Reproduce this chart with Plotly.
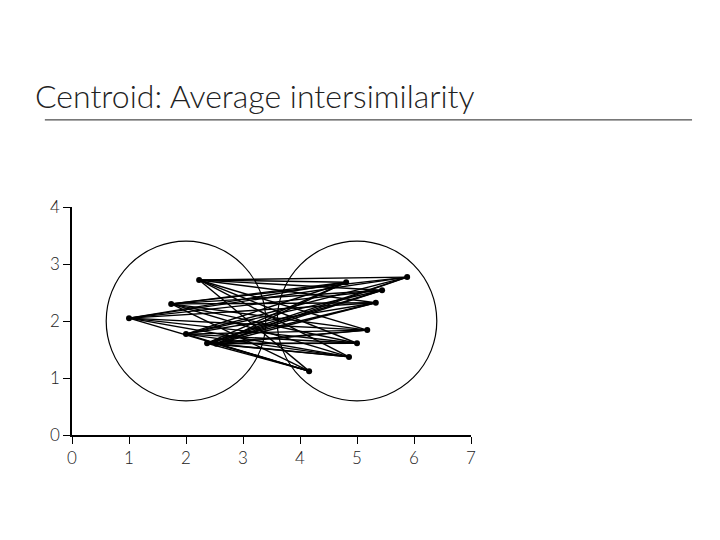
import plotly.graph_objects as go

# cluster points
left_x = [1.0, 2.23, 1.74, 2.0, 2.37, 2.53]
left_y = [2.05, 2.72, 2.30, 1.77, 1.61, 1.60]
right_x = [5.88, 4.81, 5.44, 5.33, 5.18, 5.0, 4.86, 4.16]
right_y = [2.77, 2.68, 2.54, 2.32, 1.84, 1.61, 1.37, 1.12]
centers_x = [2, 5]
centers_y = [2, 2]
radius = 1.4

# every left-right pair is joined
lx, ly = [], []
for ax, ay in zip(left_x, left_y):
    for bx, by in zip(right_x, right_y):
        lx += [ax, bx, None]
        ly += [ay, by, None]

fig = go.Figure()
fig.add_trace(go.Scatter(x=lx, y=ly, mode='lines', line=dict(color='black', width=1.4), hoverinfo='skip'))
fig.add_trace(go.Scatter(x=left_x + right_x, y=left_y + right_y, mode='markers',
                         marker=dict(color='black', size=6)))
for cx, cy in zip(centers_x, centers_y):
    fig.add_shape(type='circle', xref='x', yref='y', x0=cx - radius, x1=cx + radius,
                  y0=cy - radius, y1=cy + radius, line=dict(color='black', width=1.2))

fig.add_annotation(text='Centroid: Average intersimilarity', xref='paper', yref='paper',
                   x=-0.098, y=1.487, xanchor='left', yanchor='middle', showarrow=False,
                   font=dict(size=32, color='#222', family='Lato Light, Lato', weight=300))
fig.add_shape(type='line', xref='paper', yref='paper', x0=-0.068, x1=1.554, y0=1.382, y1=1.382,
              line=dict(color='#222', width=1))

axis = dict(showgrid=False, zeroline=False, showline=True, linecolor='black', linewidth=1.5,
            ticks='outside', ticklen=7, tickcolor='black', dtick=1, automargin=False,
            tickfont=dict(size=17, color='#222', family='Lato Light, Lato', weight=300))
fig.update_xaxes(range=[0, 7], **axis)
fig.update_yaxes(range=[0, 4], **axis)
fig.update_layout(width=720, height=540, showlegend=False, plot_bgcolor='white', paper_bgcolor='white',
                  margin=dict(l=64, r=257, t=199, b=113))
fig.write_html("out.html")
